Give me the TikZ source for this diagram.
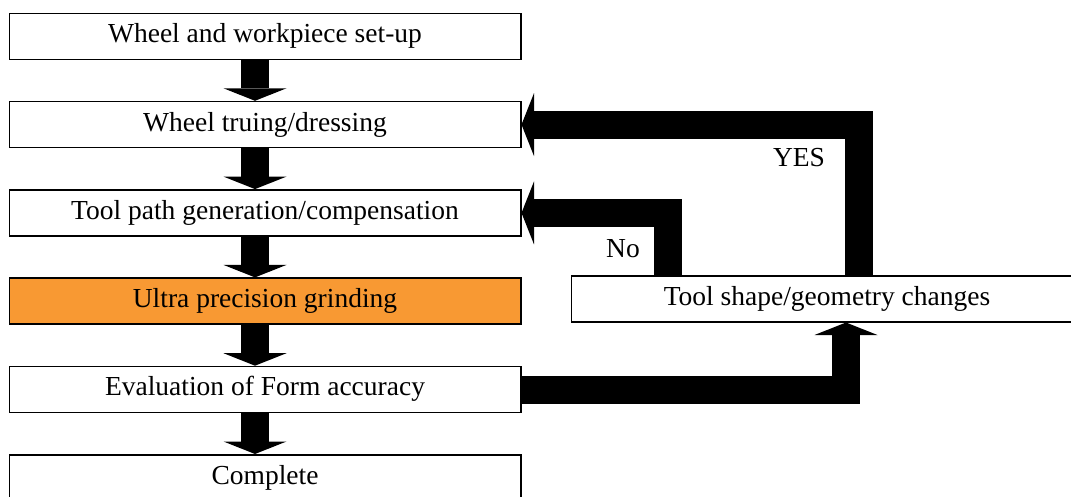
\documentclass[tikz,border=0pt]{standalone}
\usepackage{fontspec}
\setmainfont{Liberation Serif}
\usetikzlibrary{arrows.meta}
\definecolor{boxorange}{RGB}{248,153,51}
\begin{document}
\begin{tikzpicture}[x=1pt,y=-1pt,
  box/.style={draw=black, line width=1.6pt, fill=white, minimum width=511.4pt, minimum height=46pt,
    inner sep=0pt, font=\fontsize{27.5pt}{30pt}\selectfont, text height=18.9pt, text depth=6pt},
  blk/.style={line width=28pt, line join=miter, -{Triangle[width=63pt,length=12.5pt,line width=0pt]}},
  lbl/.style={anchor=base, inner sep=0pt, font=\fontsize{27.5pt}{30pt}\selectfont}]
\useasboundingbox (0,0) rectangle (1071,496);
\clip (0,0) rectangle (1071,496);
\node[box] (b1) at (265,36.3) {Wheel and workpiece set-up};
\node[box] (b2) at (265,124.6) {Wheel truing/dressing};
\node[box] (b3) at (265,212.9) {Tool path generation/compensation};
\node[box, fill=boxorange] (b4) at (265,301.2) {Ultra precision grinding};
\node[box] (b5) at (265,389.5) {Evaluation of Form accuracy};
\node[box] (b6) at (265,477.8) {Complete};
\node[box] (tsc) at (827,298.7) {Tool shape/geometry changes};
\draw[blk] ([xshift=-10pt]b1.south) -- ([xshift=-10pt]b2.north);
\draw[blk] ([xshift=-10pt]b2.south) -- ([xshift=-10pt]b3.north);
\draw[blk] ([xshift=-10pt]b3.south) -- ([xshift=-10pt]b4.north);
\draw[blk] ([xshift=-10pt]b4.south) -- ([xshift=-10pt]b5.north);
\draw[blk] ([xshift=-10pt]b5.south) -- ([xshift=-10pt]b6.north);
\draw[blk] ([xshift=-159pt]tsc.north) |- (b3.east);
\draw[blk] ([xshift=31.5pt]tsc.north) |- (b2.east);
\draw[blk] (b5.east) -| ([xshift=19pt]tsc.south);
\node[lbl] (yes) at (799,166.7) {YES};
\node[lbl] (no) at (623,257) {No};
\end{tikzpicture}
\end{document}
